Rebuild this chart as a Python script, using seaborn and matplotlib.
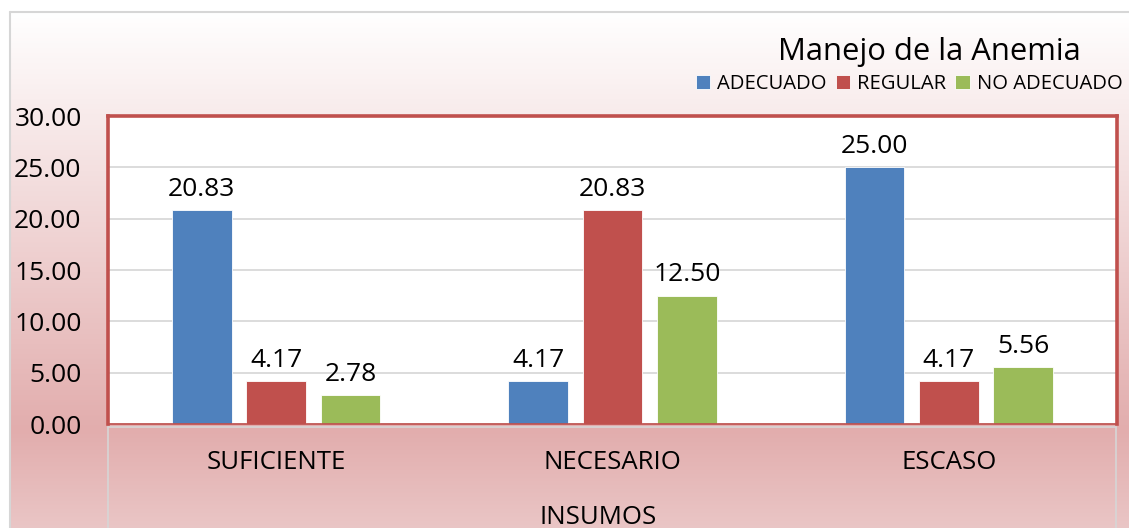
import numpy as np
import pandas as pd
import seaborn as sns
import matplotlib.pyplot as plt
from matplotlib.lines import Line2D

# values
categorias = ["SUFICIENTE", "NECESARIO", "ESCASO"]
manejo = ["ADECUADO", "REGULAR", "NO ADECUADO"]
adecuado = [20.83, 4.17, 25.00]
regular = [4.17, 20.83, 4.17]
no_adecuado = [2.78, 12.50, 5.56]
colores = ["#4f81bd", "#c0504d", "#9bbb59"]
yticks = [0, 5, 10, 15, 20, 25, 30]

df = pd.DataFrame({
    "Insumos": categorias * 3,
    "Manejo": np.repeat(manejo, 3),
    "Porcentaje": adecuado + regular + no_adecuado,
})

sns.set_theme(style="white")
plt.rcParams["font.family"] = ["Open Sans", "DejaVu Sans"]
plt.rcParams.update({"text.color": "black", "xtick.color": "black",
                     "ytick.color": "black", "axes.labelcolor": "black"})

W, H = 1129, 528
fig = plt.figure(figsize=(W / 100, H / 100), dpi=100)

# background: white -> pink gradient inside a light grey frame
bg = fig.add_axes([0, 0, 1, 1], zorder=-10)
ys = np.arange(H)
grad = np.stack([np.interp(ys, [12, 430, 528], [255, 226, 234]),
                 np.interp(ys, [12, 430, 528], [255, 173, 198]),
                 np.interp(ys, [12, 430, 528], [255, 173, 198])], axis=-1) / 255
img = np.repeat(grad[:, None, :], W, axis=1)
img[:12, :, :] = 1
img[:, :10, :] = 1
bg.imshow(img, extent=[0, W, H, 0], aspect="auto")
bg.set_axis_off()

ax = fig.add_axes([108 / W, 1 - 424 / H, (1117 - 108) / W, (424 - 116) / H])
ax.set_facecolor("white")
sns.barplot(data=df, x="Insumos", y="Porcentaje", hue="Manejo", palette=colores,
            width=0.664, gap=0.2, saturation=1, edgecolor="white", linewidth=0.6,
            ax=ax, legend=True)

for cont in ax.containers:
    ax.bar_label(cont, fmt="%.2f", padding=6, fontsize=19, color="black")

ax.set_ylim(0, 30)
ax.set_yticks(yticks)
ax.set_yticklabels([f"{v:.2f}" for v in yticks])
ax.yaxis.grid(True, color="#d9d9d9", linewidth=1.3)
ax.set_axisbelow(True)
ax.tick_params(axis="y", length=0, pad=19, labelsize=19)
ax.tick_params(axis="x", length=0, pad=19, labelsize=18.5)
ax.set_xlabel("")
ax.set_ylabel("")
for side in ["left", "top", "right"]:
    ax.spines[side].set_color("#c0504d")
    ax.spines[side].set_linewidth(2.6)
ax.spines["bottom"].set_color("#c0504d")
ax.spines["bottom"].set_linewidth(1.2)

handles, labels = ax.get_legend_handles_labels()
ax.get_legend().remove()
fig.legend(handles, labels, loc="center left", bbox_to_anchor=(696 / W, 1 - 84 / H),
           ncol=3, frameon=False, fontsize=14.6, handlelength=0.7, handleheight=0.7,
           handletextpad=0.35, columnspacing=0.45, borderpad=0, borderaxespad=0)

fig.text(929 / W, 1 - 52 / H, "Manejo de la Anemia", ha="center", va="center", fontsize=22.3)
fig.text(598 / W, 1 - 517 / H, "INSUMOS", ha="center", va="center", fontsize=18.5)

# light grey frame lines
grey = "#d6d6d6"
fig.add_artist(Line2D([10 / W, 10 / W], [0, 1 - 12 / H], color=grey, lw=1.5))
fig.add_artist(Line2D([10 / W, 1], [1 - 12 / H, 1 - 12 / H], color=grey, lw=1.5))
fig.add_artist(Line2D([108 / W, 1116 / W], [1 - 427 / H, 1 - 427 / H], color=grey, lw=1.2))
fig.add_artist(Line2D([108 / W, 108 / W], [0, 1 - 427 / H], color=grey, lw=1.2))
fig.add_artist(Line2D([1116 / W, 1116 / W], [0, 1 - 427 / H], color=grey, lw=1.2))

fig.savefig("out.png", dpi=100)
